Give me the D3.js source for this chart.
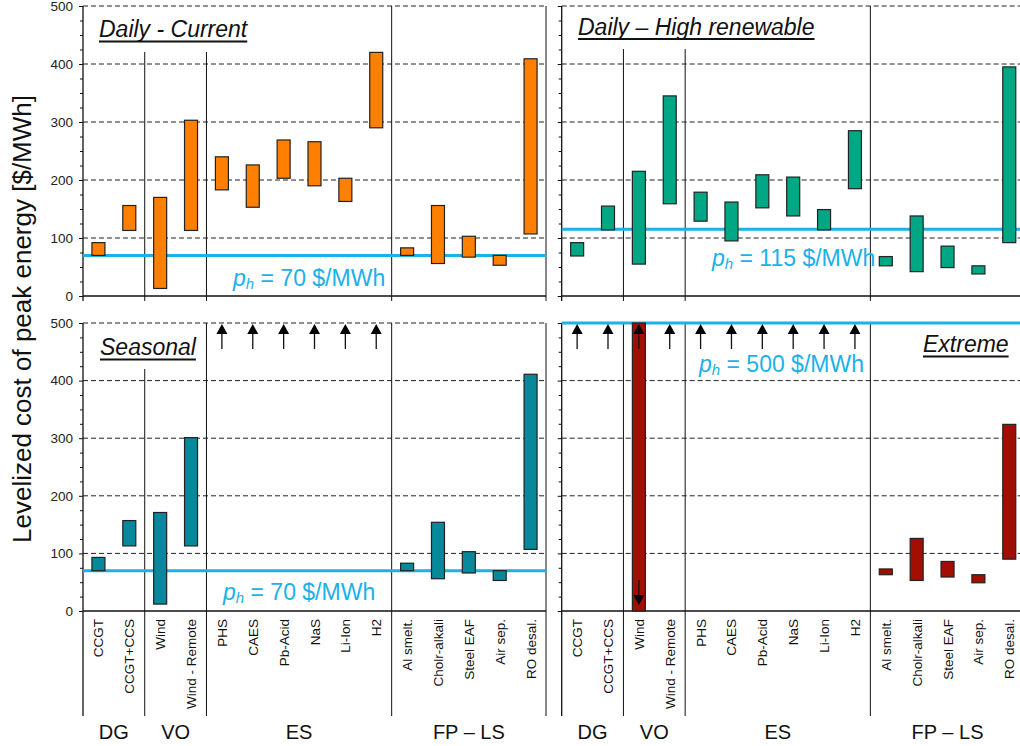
<!DOCTYPE html>
<html>
<head>
<meta charset="utf-8">
<script src="https://cdn.jsdelivr.net/npm/d3@7"></script>
<style>
  html, body { margin: 0; padding: 0; background: #fff; }
  svg { display: block; font-family: "Liberation Sans", Arial, Helvetica, sans-serif; }
</style>
</head>
<body>
<svg id="chart" width="1020" height="746"></svg>
<script>
// Technologies on the x axis, grouped by option type
const categories = ["CCGT", "CCGT+CCS", "Wind", "Wind - Remote", "PHS", "CAES", "Pb-Acid", "NaS", "Li-Ion", "H2",
  "Al smelt.", "Cholr-alkali", "Steel EAF", "Air sep.", "RO desal."];
const groupNames = ["DG", "VO", "ES", "FP – LS"];
const groupSizes = [2, 2, 6, 5];
const yTicks = [0, 100, 200, 300, 400, 500];

// Levelized cost ranges [$/MWh]; null = off the scale (drawn as an arrow)
const currentLow  = [70, 113, 13, 113, 183, 153, 203, 190, 163, 290, 70, 56, 67, 53, 107];
const currentHigh = [92, 156, 170, 303, 240, 226, 269, 266, 203, 420, 83, 156, 103, 70, 409];

const renewLow  = [69, 114, 55, 159, 129, 95, 152, 138, 114, 185, 52, 42, 49, 38, 92];
const renewHigh = [92, 155, 215, 345, 179, 162, 209, 205, 149, 285, 68, 138, 86, 52, 395];

const seasonalLow  = [70, 113, 12, 113, null, null, null, null, null, null, 70, 56, 66, 53, 107];
const seasonalHigh = [93, 157, 171, 301, null, null, null, null, null, null, 83, 154, 103, 70, 411];

const extremeLow  = [null, null, 0, null, null, null, null, null, null, null, 63, 53, 59, 49, 90];
const extremeHigh = [null, null, 500, null, null, null, null, null, null, null, 73, 126, 86, 63, 324];
const extremeUpArrows = ["CCGT", "CCGT+CCS", "Wind", "Wind - Remote", "PHS", "CAES", "Pb-Acid", "NaS", "Li-Ion", "H2"];
const extremeDownArrows = ["Wind"];
const seasonalUpArrows = ["PHS", "CAES", "Pb-Acid", "NaS", "Li-Ion", "H2"];

// Peak price of each scenario [$/MWh]
const peakPrices = [70, 115, 70, 500];
const titles = ["Daily - Current", "Daily – High renewable", "Seasonal", "Extreme"];

const svg = d3.select("#chart");
const BLUE = "#1BB1E9";

const panels = [
  { x0: 83,    top: 6,   bottom: 296, low: currentLow,  high: currentHigh,  color: "#FF7F00",
    title: { x: 99, y: 37 }, label: { x: 233, y: 286 }, sepStart: [46, 46, 0], up: [], down: [], yLabels: true, xLabels: false },
  { x0: 561.7, top: 6,   bottom: 296, low: renewLow,    high: renewHigh,    color: "#00A784",
    title: { x: 578, y: 34.5 }, label: { x: 712, y: 266 }, sepStart: [43, 43, 0], up: [], down: [], yLabels: false, xLabels: false },
  { x0: 83,    top: 323, bottom: 611, low: seasonalLow, high: seasonalHigh, color: "#07889B",
    title: { x: 100, y: 355 }, label: { x: 223, y: 600 }, sepStart: [46, 0, 0], up: seasonalUpArrows, down: [], yLabels: true, xLabels: true },
  { x0: 561.7, top: 323, bottom: 611, low: extremeLow,  high: extremeHigh,  color: "#A30E02",
    title: { x: 923, y: 352 }, label: { x: 699, y: 372 }, sepStart: [0, 0, 0], up: extremeUpArrows, down: extremeDownArrows, yLabels: false, xLabels: true }
];

const PANEL_W = 463;
const LABEL_BOTTOM = 716;

panels.forEach((p, i) => {
  const g = svg.append("g");
  const x = d3.scaleBand().domain(categories).range([p.x0, p.x0 + PANEL_W]);
  const y = d3.scaleLinear().domain([0, 500]).range([p.bottom, p.top]);
  const xr = p.x0 + PANEL_W;

  // dashed gridlines (500 forms the top edge)
  g.append("g").selectAll("line").data(yTicks.filter(v => v > 0)).join("line")
    .attr("x1", p.x0).attr("x2", xr)
    .attr("y1", d => y(d)).attr("y2", d => y(d))
    .attr("stroke", "#222").attr("stroke-width", 1).attr("stroke-dasharray", "5,3");

  // right frame edge
  g.append("line").attr("x1", xr).attr("x2", xr)
    .attr("y1", y(500)).attr("y2", p.xLabels ? LABEL_BOTTOM : y(0) + 5)
    .attr("stroke", "#111").attr("stroke-width", 1);

  // group separators
  let acc = 0;
  const seps = [];
  groupSizes.slice(0, -1).forEach(s => { acc += s; seps.push(acc); });
  seps.forEach((k, j) => {
    const sx = x(categories[k]);
    g.append("line").attr("x1", sx).attr("x2", sx)
      .attr("y1", y(500) + p.sepStart[j]).attr("y2", p.xLabels ? LABEL_BOTTOM : y(0) + 5)
      .attr("stroke", "#111").attr("stroke-width", 1);
  });

  // left axis with minor ticks
  const minor = d3.range(0, 501, 25).filter(v => v % 100 !== 0);
  g.append("g").attr("transform", `translate(${p.x0},0)`)
    .call(d3.axisLeft(y).tickValues(minor).tickSize(3).tickFormat(""))
    .call(a => a.select(".domain").remove())
    .selectAll("line").attr("stroke", "#111");
  const ax = g.append("g").attr("transform", `translate(${p.x0},0)`)
    .call(d3.axisLeft(y).tickValues(yTicks).tickSize(4).tickPadding(6)
      .tickFormat(p.yLabels ? d3.format("d") : ""));
  ax.select(".domain").remove();
  ax.selectAll("line").attr("stroke", "#111");
  ax.selectAll("text").attr("font-size", 13.5).attr("fill", "#222")
    .attr("font-family", "'Liberation Sans', Arial, sans-serif");
  g.append("line").attr("x1", p.x0).attr("x2", p.x0)
    .attr("y1", y(500)).attr("y2", p.xLabels ? LABEL_BOTTOM : y(0) + 5)
    .attr("stroke", "#111").attr("stroke-width", 1.3);

  // bottom axis line
  g.append("line").attr("x1", p.x0).attr("x2", xr).attr("y1", y(0)).attr("y2", y(0))
    .attr("stroke", "#111").attr("stroke-width", 1.5);

  // peak price line
  g.append("line").attr("x1", p.x0).attr("x2", xr)
    .attr("y1", y(peakPrices[i])).attr("y2", y(peakPrices[i]))
    .attr("stroke", BLUE).attr("stroke-width", 3);

  // cost range bars
  const bw = 13;
  const bars = categories.map((c, k) => ({ c, lo: p.low[k], hi: p.high[k] })).filter(d => d.lo !== null);
  g.append("g").selectAll("rect").data(bars).join("rect")
    .attr("x", d => x(d.c) + x.bandwidth() / 2 - bw / 2)
    .attr("width", bw)
    .attr("y", d => y(d.hi))
    .attr("height", d => y(d.lo) - y(d.hi))
    .attr("fill", p.color).attr("stroke", "#222").attr("stroke-width", 1.2);

  // off-scale arrows
  const arrowUp = (cx) => {
    const t = y(500) + 1;
    g.append("line").attr("x1", cx).attr("x2", cx).attr("y1", t + 25).attr("y2", t + 8)
      .attr("stroke", "#111").attr("stroke-width", 1.3);
    g.append("path").attr("d", `M${cx},${t} L${cx - 5.5},${t + 10} L${cx + 5.5},${t + 10} Z`).attr("fill", "#000");
  };
  const arrowDown = (cx) => {
    const t = y(0) - 6;
    g.append("line").attr("x1", cx).attr("x2", cx).attr("y1", t - 25).attr("y2", t - 8)
      .attr("stroke", "#111").attr("stroke-width", 1.3);
    g.append("path").attr("d", `M${cx},${t} L${cx - 5.5},${t - 10} L${cx + 5.5},${t - 10} Z`).attr("fill", "#000");
  };
  p.up.forEach(c => arrowUp(x(c) + x.bandwidth() / 2));
  p.down.forEach(c => arrowDown(x(c) + x.bandwidth() / 2));

  // scenario title, underlined
  const tt = g.append("text").attr("x", p.title.x).attr("y", p.title.y)
    .attr("font-size", 23).attr("font-style", "italic").attr("fill", "#111").text(titles[i]);
  const tw = tt.node().getComputedTextLength();
  g.append("line").attr("x1", p.title.x).attr("x2", p.title.x + tw)
    .attr("y1", p.title.y + 4.5).attr("y2", p.title.y + 4.5)
    .attr("stroke", "#111").attr("stroke-width", 1.8);

  // peak price label
  const lt = g.append("text").attr("x", p.label.x).attr("y", p.label.y)
    .attr("font-size", 23).attr("fill", BLUE);
  lt.append("tspan").attr("font-style", "italic").text("p");
  lt.append("tspan").attr("font-style", "italic").attr("font-size", 15).attr("dy", 3).text("h");
  lt.append("tspan").attr("dy", -3).text(` = ${peakPrices[i]} $/MWh`);

  // category and group labels
  if (p.xLabels) {
    g.append("g").selectAll("text").data(categories).join("text")
      .attr("transform", d => `translate(${x(d) + x.bandwidth() / 2 + 5},619) rotate(-90)`)
      .attr("text-anchor", "end").attr("font-size", 13.5).attr("fill", "#111").text(d => d);
    let start = 0;
    groupSizes.forEach((s, j) => {
      const a = x(categories[start]);
      const b = x(categories[start + s - 1]) + x.bandwidth();
      g.append("text").attr("x", (a + b) / 2).attr("y", 739).attr("text-anchor", "middle")
        .attr("font-size", 20).attr("fill", "#111").text(groupNames[j]);
      start += s;
    });
  }
});

// shared y axis title
svg.append("text").attr("transform", "translate(31,319) rotate(-90)")
  .attr("text-anchor", "middle").attr("font-size", 26).attr("fill", "#111")
  .text("Levelized cost of peak energy [$/MWh]");
</script>
</body>
</html>
